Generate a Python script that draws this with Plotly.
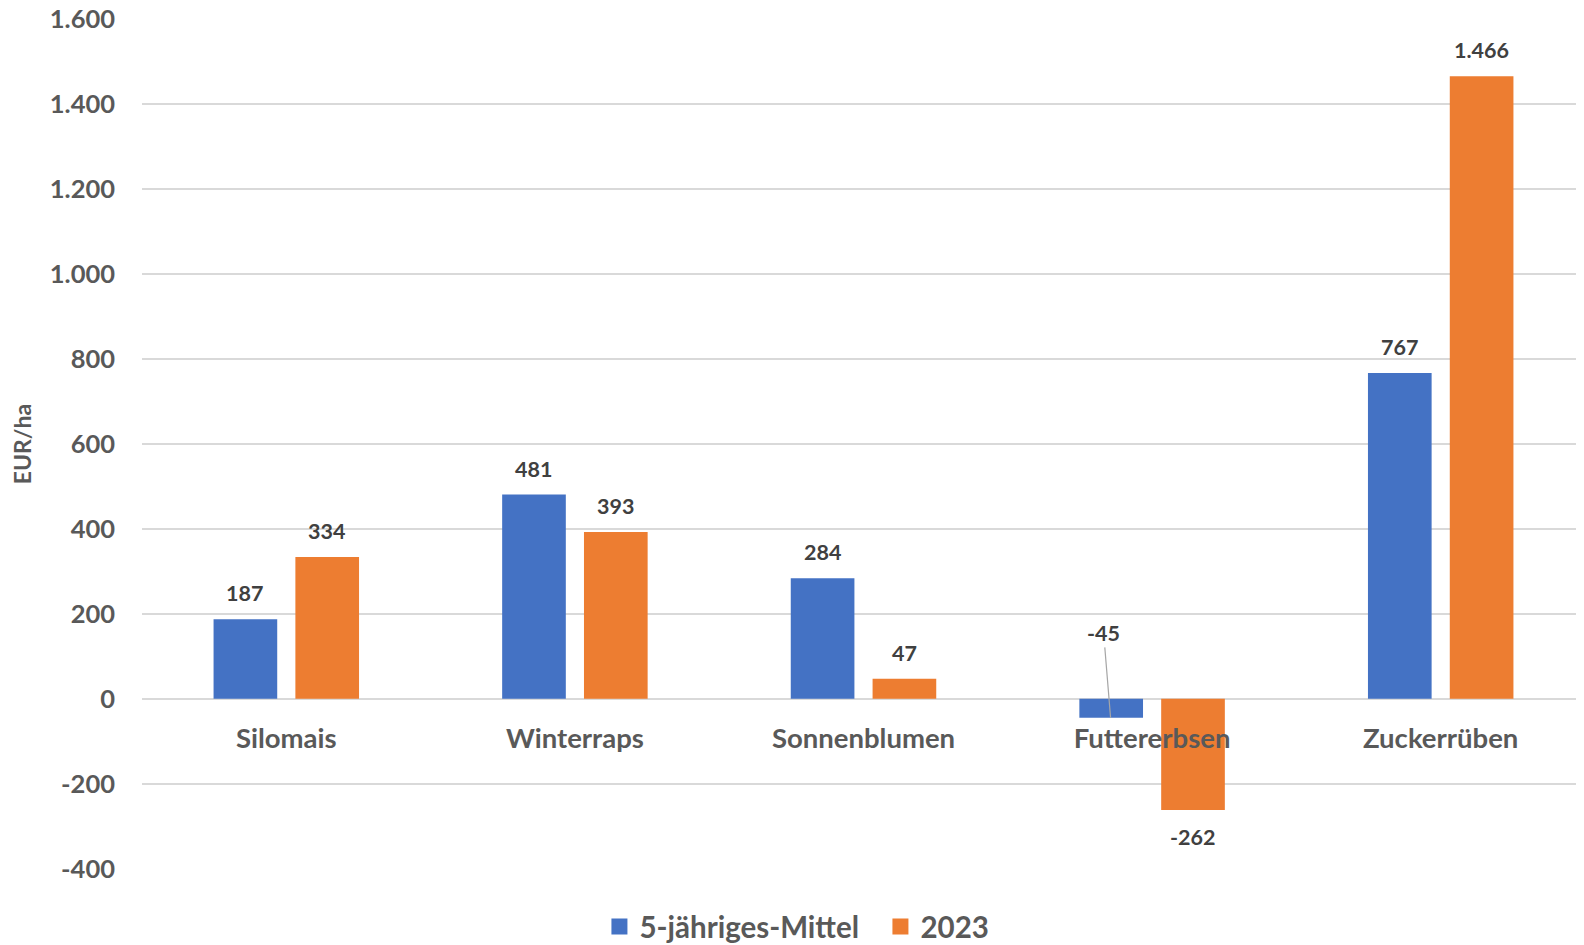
import plotly.graph_objects as go

categories = ["Silomais", "Winterraps", "Sonnenblumen", "Futtererbsen", "Zuckerrüben"]
series_names = ["5-jähriges-Mittel", "2023"]
mittel = [187, 481, 284, -45, 767]
y2023 = [334, 393, 47, -262, 1466]
colors = ["#4472C4", "#ED7D31"]
y_ticks = [-400, -200, 0, 200, 400, 600, 800, 1000, 1200, 1400, 1600]

FONT = "Lato"
TXT = "#595959"
LBL = "#404040"

def fmt(v):
    s = f"{abs(v):,}".replace(",", ".")
    return ("-" if v < 0 else "") + s

fig = go.Figure()
for name, vals, col in zip(series_names, [mittel, y2023], colors):
    fig.add_trace(go.Bar(x=categories, y=vals, name=name, showlegend=False,
                         marker=dict(color=col, line=dict(width=0))))
# legend entries with larger square symbols
for name, col in zip(series_names, colors):
    fig.add_trace(go.Scatter(x=[None], y=[None], mode="markers", name=name,
                             marker=dict(symbol="square", size=16, color=col)))

annotations = []
for vals, xs in [(mittel, -41.5), (y2023, 40.5)]:
    for c, v in zip(categories, vals):
        if v < 0 and abs(v) < 100:
            annotations.append(dict(x=c, y=v, xref="x", yref="y", xshift=xs, text=fmt(v),
                                    showarrow=True, arrowhead=0, arrowwidth=1.2, arrowcolor="#A6A6A6",
                                    ax=-7, ay=-85, standoff=0,
                                    font=dict(family=FONT, size=21.5, color=LBL, weight="bold")))
        else:
            annotations.append(dict(x=c, y=v, xref="x", yref="y", xshift=xs,
                                    yshift=26 if v >= 0 else -27, text=fmt(v), showarrow=False,
                                    font=dict(family=FONT, size=21.5, color=LBL, weight="bold")))

fig.update_layout(
    width=1584, height=945,
    margin=dict(l=134, r=7, t=11, b=84, autoexpand=False),
    paper_bgcolor="white", plot_bgcolor="white",
    barmode="group", bargap=0.433, bargroupgap=0.222,
    separators=",.",
    font=dict(family=FONT, color=TXT),
    showlegend=True,
    legend=dict(orientation="h", x=0.317, xanchor="left", y=-0.068, yanchor="middle",
                font=dict(family=FONT, size=29.5, color=TXT, weight="bold"),
                entrywidth=236, entrywidthmode="pixels",
                itemwidth=30, traceorder="normal", itemsizing="trace"),
    annotations=annotations,
    xaxis=dict(anchor="free", position=0.2, showgrid=False, zeroline=False, showline=False,
               ticks="", ticklabelstandoff=20, automargin=False,
               tickfont=dict(family=FONT, size=27.5, color=TXT, weight="bold")),
    yaxis=dict(range=[-401, 1601], tickvals=y_ticks, ticktext=[fmt(t) for t in y_ticks],
               showgrid=True, gridcolor="#D9D9D9", gridwidth=1.5,
               zeroline=True, zerolinecolor="#D9D9D9", zerolinewidth=1.5,
               showline=False, ticks="", ticklabelstandoff=26, automargin=False,
               ticklabeloverflow="allow",
               tickfont=dict(family=FONT, size=25.5, color=TXT, weight="bold"),
               title=dict(text="EUR/ha", standoff=26,
                          font=dict(family=FONT, size=23, color=TXT, weight="bold"))),
)

fig.write_html("out.html")
